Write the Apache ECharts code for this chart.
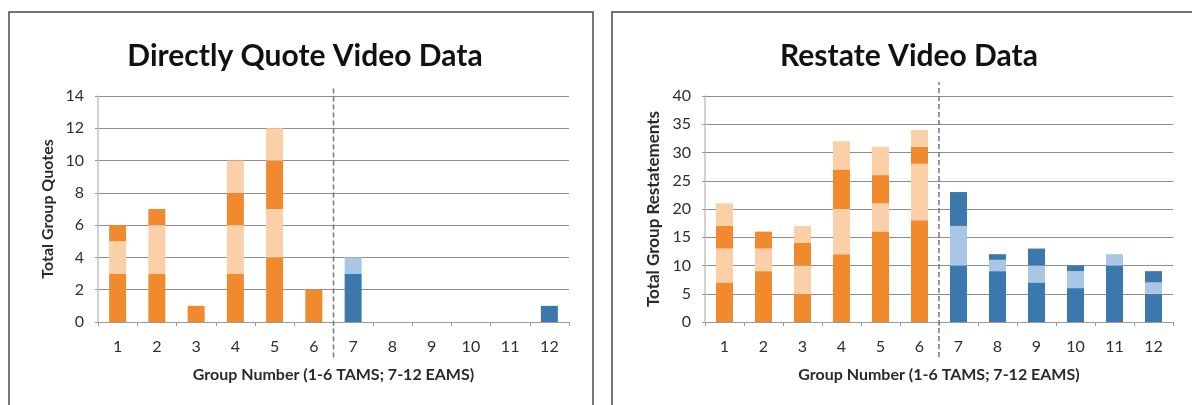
<!DOCTYPE html>
<html>
<head>
<meta charset="utf-8">
<script src="https://cdn.jsdelivr.net/npm/echarts@6/dist/echarts.min.js"></script>
<style>
html,body{margin:0;padding:0;background:#fff;}
#chart{width:1192px;height:405px;}
</style>
</head>
<body>
<div id="chart"></div>
<script>
// ---- data ----
var groups = ['1','2','3','4','5','6','7','8','9','10','11','12'];
var quoteTicks = [0, 14, 2];     // min, max, interval
var restateTicks = [0, 40, 5];
// Directly Quote: stacked segments (dark, light, dark, light)
var quoteSeg1 = [3,3,1,3,4,2,3,0,0,0,0,1];
var quoteSeg2 = [2,3,0,3,3,0,1,0,0,0,0,0];
var quoteSeg3 = [1,1,0,2,3,0,0,0,0,0,0,0];
var quoteSeg4 = [0,0,0,2,2,0,0,0,0,0,0,0];
// Restate: stacked segments (dark, light, dark, light)
var restSeg1 = [7,9,5,12,16,18,10,9,7,6,10,5];
var restSeg2 = [6,4,5,8,5,10,7,2,3,3,2,2];
var restSeg3 = [4,3,4,7,5,3,6,1,3,1,0,2];
var restSeg4 = [4,0,3,5,5,3,0,0,0,0,0,0];
// divider between TAMS (1-6) and EAMS (7-12)
var dividerX = 6.5;
var quoteDivider = [-2.2, 14.6];
var restDivider = [-6.2, 42.5];

var ORANGE = '#f08a2c', ORANGE_L = '#fbd0a9', BLUE = '#3b78ae', BLUE_L = '#a9c7e5';
var FONT = 'Lato, "Open Sans", sans-serif';

function colorFn(dark) {
  return function (p) {
    if (p.dataIndex < 6) return dark ? ORANGE : ORANGE_L;
    return dark ? BLUE : BLUE_L;
  };
}

function barSeries(data, idx, dark, stack) {
  return {
    type: 'bar', xAxisIndex: idx, yAxisIndex: idx, stack: stack,
    data: data, barWidth: 17, silent: true,
    itemStyle: { color: colorFn(dark) }
  };
}

function catAxis(gridIndex) {
  return {
    type: 'category', gridIndex: gridIndex, data: groups,
    name: 'Group Number (1-6 TAMS; 7-12 EAMS)', nameLocation: 'middle', nameGap: 45,
    nameTextStyle: { fontFamily: FONT, fontSize: 16, fontWeight: 'bold', color: '#2a2a2a' },
    axisLine: { lineStyle: { color: '#9a9a9a', width: 1 } },
    axisTick: { show: true, length: 4, lineStyle: { color: '#9a9a9a' } },
    axisLabel: { fontFamily: FONT, fontSize: 16, color: '#2e2e2e', margin: 17 },
    splitLine: { show: false }
  };
}
function hiddenX(gridIndex) {
  return { type: 'value', gridIndex: gridIndex, min: 0.5, max: 12.5, show: false };
}
function valAxis(gridIndex, ticks, name, gap, nameSize) {
  return {
    type: 'value', gridIndex: gridIndex, min: ticks[0], max: ticks[1], interval: ticks[2],
    name: name, nameLocation: 'middle', nameGap: gap, nameRotate: 90,
    nameTextStyle: { fontFamily: FONT, fontSize: nameSize, fontWeight: 'bold', color: '#2a2a2a' },
    axisLine: { show: true, lineStyle: { color: '#c4c4c4', width: 1.5 } },
    axisTick: { show: true, length: 3, lineStyle: { color: '#9a9a9a' } },
    axisLabel: { fontFamily: FONT, fontSize: 16, color: '#2e2e2e', margin: 14 },
    splitLine: { show: true, lineStyle: { color: '#8e8e8e', width: 1 } }
  };
}
function divider(xIdx, yIdx, range) {
  return {
    type: 'line', xAxisIndex: xIdx, yAxisIndex: yIdx, clip: false, silent: true,
    symbol: 'none', data: [[dividerX, range[0]], [dividerX, range[1]]],
    lineStyle: { color: '#777', width: 1.5, type: [5, 3] }, z: 5
  };
}

var chart = echarts.init(document.getElementById('chart'), null, { renderer: 'canvas' });
chart.setOption({
  animation: false,
  backgroundColor: '#fff',
  title: [
    { text: 'Directly Quote Video Data', left: 300, top: 36, textAlign: 'center',
      textStyle: { fontFamily: FONT, fontSize: 30, fontWeight: 'bold', color: '#111' } },
    { text: 'Restate Video Data', left: 904, top: 36, textAlign: 'center',
      textStyle: { fontFamily: FONT, fontSize: 30, fontWeight: 'bold', color: '#111' } }
  ],
  graphic: [
    { type: 'rect', shape: { x: 9, y: 12, width: 584, height: 420 },
      style: { fill: 'none', stroke: '#4a4a4a', lineWidth: 1.5 }, silent: true },
    { type: 'rect', shape: { x: 612, y: 12, width: 620, height: 420 },
      style: { fill: 'none', stroke: '#4a4a4a', lineWidth: 1.5 }, silent: true }
  ],
  grid: [
    { left: 98, top: 96, width: 471, height: 226 },
    { left: 705, top: 96, width: 468, height: 226 }
  ],
  xAxis: [catAxis(0), catAxis(1), hiddenX(0), hiddenX(1)],
  yAxis: [
    valAxis(0, quoteTicks, 'Total Group Quotes', 42, 16),
    valAxis(1, restateTicks, 'Total Group Restatements', 43, 17)
  ],
  series: [
    barSeries(quoteSeg1, 0, true, 'q'),
    barSeries(quoteSeg2, 0, false, 'q'),
    barSeries(quoteSeg3, 0, true, 'q'),
    barSeries(quoteSeg4, 0, false, 'q'),
    barSeries(restSeg1, 1, true, 'r'),
    barSeries(restSeg2, 1, false, 'r'),
    barSeries(restSeg3, 1, true, 'r'),
    barSeries(restSeg4, 1, false, 'r'),
    divider(2, 0, quoteDivider),
    divider(3, 1, restDivider)
  ]
});
</script>
</body>
</html>
